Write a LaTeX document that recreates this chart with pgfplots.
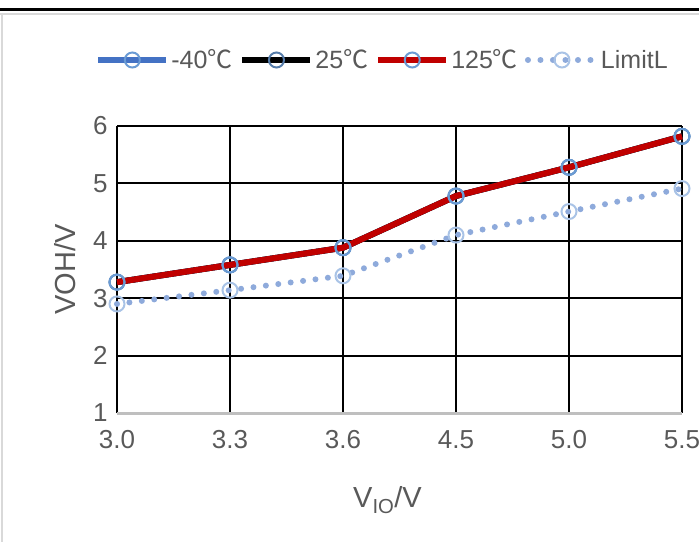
\documentclass[border=0pt]{standalone}
\usepackage{fontspec}
\setmainfont{Liberation Sans}
\newfontfamily\cjk{Noto Sans CJK SC}
\usepackage{pgfplots}
\pgfplotsset{compat=1.18}
\definecolor{txt}{HTML}{595959}
\definecolor{mblue}{HTML}{4472C4}
\definecolor{mred}{HTML}{C00000}
\definecolor{mk}{HTML}{6A9BD4}
\definecolor{lim}{HTML}{8EAADB}
\definecolor{limmk}{HTML}{A9C3E6}
\newcommand{\dc}{{\cjk ℃}}
\begin{document}
\begin{tikzpicture}[x=1pt,y=1pt]
\path[use as bounding box] (0,0) rectangle (699,542);
\draw[line width=3pt] (0,532) -- (699,532);
\draw[black!15, line width=1.5pt] (0,528) -- (699,528);
\draw[black!15, line width=1.5pt] (2,528) -- (2,0);
\begin{axis}[
  at={(117pt,129pt)}, anchor=south west, scale only axis,
  width=565pt, height=287pt,
  xmin=0, xmax=5, ymin=1, ymax=6,
  xtick={0,...,5}, xticklabels={3.0,3.3,3.6,4.5,5.0,5.5},
  ytick={1,...,6},
  grid=major, major grid style={black, line width=2pt},
  axis line style={draw=none},
  tick style={draw=none},
  /pgf/number format/assume math mode=true,
  ticklabel style={font=\fontsize{26}{30}\selectfont, text=txt},
  xticklabel style={yshift=-14pt},
  yticklabel style={xshift=-6pt},
  xlabel={V\textsubscript{IO}/V},
  ylabel={VOH/V},
  label style={font=\fontsize{29}{33}\selectfont, text=txt},
  xlabel style={at={(axis description cs:0.5,0)}, anchor=center, yshift=-87pt, xshift=-12pt},
  ylabel style={at={(axis description cs:0,0.5)}, anchor=center, yshift=52pt},
  clip=false,
  legend columns=4,
  legend style={at={(axis description cs:0.5,1)}, anchor=center, xshift=-17pt, yshift=66pt,
    draw=none, fill=none, font=\fontsize{25}{29}\selectfont, text=txt,
    /tikz/every odd column/.append style={column sep=0pt},
    /tikz/every even column/.append style={column sep=5pt}},
  legend image code/.code={\draw[#1, mark repeat=2, mark phase=2] plot coordinates {(0pt,0pt)(34pt,0pt)(68pt,0pt)};},
]
\addplot[mblue, line width=6pt, mark=o, mark size=7.5pt, mark options={draw=mk, line width=2pt, fill=none, solid}]
  coordinates {(0,3.28)(1,3.58)(2,3.88)(3,4.78)(4,5.28)(5,5.82)};
\addlegendentry{-40\dc}
\addplot[black, line width=6pt, mark=o, mark size=7.5pt, mark options={draw=mk!80!black, line width=2pt, fill=none, solid}]
  coordinates {(0,3.28)(1,3.58)(2,3.88)(3,4.78)(4,5.28)(5,5.82)};
\addlegendentry{25\dc}
\addplot[mred, line width=6pt, mark=o, mark size=7.5pt, mark options={draw=mk, line width=2pt, fill=none, solid}]
  coordinates {(0,3.28)(1,3.58)(2,3.88)(3,4.78)(4,5.28)(5,5.82)};
\addlegendentry{125\dc}
\addplot[lim, line width=6pt, line cap=round, dash pattern=on 0pt off 12.5pt, mark=o, mark size=7.5pt, mark options={draw=limmk, line width=2pt, fill=none, solid}]
  coordinates {(0,2.9)(1,3.14)(2,3.39)(3,4.1)(4,4.51)(5,4.91)};
\addlegendentry{LimitL}
\draw[black!25, line width=3pt] (axis cs:0,1) -- (axis cs:5,1);
\end{axis}
\end{tikzpicture}
\end{document}
